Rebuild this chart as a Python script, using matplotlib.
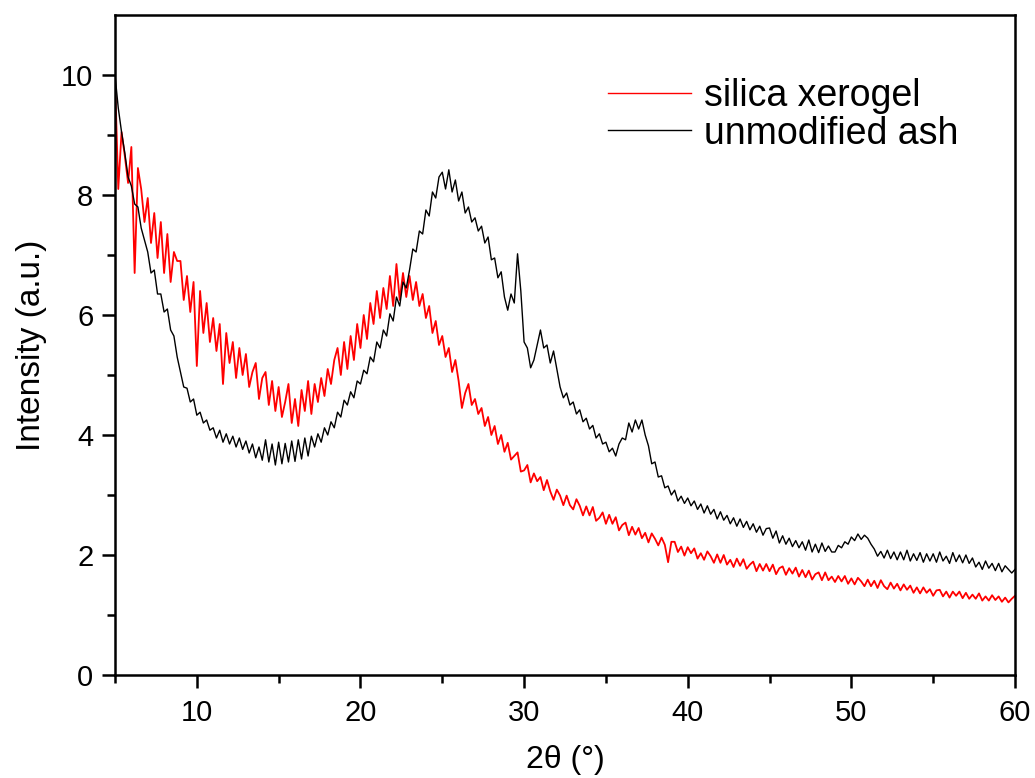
import numpy as np
import matplotlib
matplotlib.use("Agg")
import matplotlib.pyplot as plt

plt.rcParams['font.family'] = ['Liberation Sans', 'DejaVu Sans']

# 2-theta grid (degrees), step 0.2
two_theta = np.round(np.linspace(5.0, 60.0, 276), 2)

# silica xerogel intensity (a.u.)
silica_xerogel = [
    9.95, 8.10, 9.05, 8.65, 8.20, 8.80, 6.70, 8.45, 8.10, 7.55,
    7.95, 7.20, 7.70, 6.95, 7.55, 6.70, 7.35, 6.55, 7.05, 6.90,
    6.90, 6.25, 6.65, 6.05, 6.55, 5.15, 6.40, 5.70, 6.20, 5.55,
    5.95, 5.40, 5.85, 4.85, 5.70, 5.20, 5.55, 4.95, 5.45, 5.00,
    5.35, 4.80, 5.05, 5.20, 4.60, 4.95, 5.05, 4.50, 4.90, 4.40,
    4.80, 4.30, 4.55, 4.85, 4.20, 4.60, 4.15, 4.75, 4.40, 4.90,
    4.35, 4.85, 4.55, 4.95, 4.65, 5.10, 4.85, 5.25, 5.45, 5.00,
    5.55, 5.10, 5.65, 5.25, 5.85, 5.45, 6.00, 5.60, 6.20, 5.85,
    6.40, 5.95, 6.45, 6.10, 6.65, 6.15, 6.85, 6.25, 6.70, 6.30,
    6.65, 6.25, 6.55, 6.15, 6.35, 5.95, 6.15, 5.70, 5.90, 5.50,
    5.65, 5.30, 5.45, 5.05, 5.25, 4.90, 4.45, 4.70, 4.85, 4.50,
    4.60, 4.35, 4.45, 4.15, 4.30, 4.00, 4.15, 3.85, 4.00, 3.72,
    3.87, 3.59, 3.65, 3.71, 3.39, 3.41, 3.50, 3.21, 3.36, 3.23,
    3.30, 3.08, 3.25, 3.06, 2.92, 3.09, 2.99, 2.83, 2.99, 2.83,
    2.76, 2.93, 2.82, 2.66, 2.81, 2.66, 2.80, 2.57, 2.62, 2.71,
    2.52, 2.67, 2.52, 2.63, 2.41, 2.50, 2.54, 2.33, 2.47, 2.34,
    2.45, 2.28, 2.37, 2.21, 2.36, 2.27, 2.16, 2.29, 2.17, 1.88,
    2.22, 2.22, 2.05, 2.14, 1.99, 2.13, 2.03, 2.11, 1.94, 2.03,
    1.92, 2.06, 1.98, 1.87, 2.01, 1.87, 2.00, 1.84, 1.92, 1.80,
    1.94, 1.82, 1.93, 1.77, 1.84, 1.89, 1.73, 1.85, 1.74, 1.85,
    1.73, 1.84, 1.68, 1.78, 1.81, 1.67, 1.78, 1.69, 1.79, 1.64,
    1.75, 1.63, 1.74, 1.59, 1.68, 1.71, 1.58, 1.71, 1.58, 1.64,
    1.55, 1.65, 1.56, 1.65, 1.52, 1.61, 1.51, 1.62, 1.56, 1.48,
    1.59, 1.48, 1.57, 1.45, 1.58, 1.48, 1.43, 1.54, 1.44, 1.52,
    1.41, 1.51, 1.42, 1.49, 1.37, 1.46, 1.36, 1.46, 1.37, 1.43,
    1.32, 1.41, 1.42, 1.31, 1.39, 1.29, 1.39, 1.32, 1.39, 1.28,
    1.37, 1.27, 1.34, 1.27, 1.36, 1.24, 1.31, 1.24, 1.33, 1.25,
    1.31, 1.22, 1.29, 1.21, 1.27, 1.32,
]

# unmodified ash intensity (a.u.)
unmodified_ash = [
    10.00, 9.45, 9.05, 8.70, 8.30, 8.15, 7.85, 7.80, 7.45, 7.25,
    7.05, 6.70, 6.75, 6.35, 6.35, 6.05, 6.10, 5.75, 5.65, 5.30,
    5.05, 4.80, 4.78, 4.55, 4.60, 4.33, 4.38, 4.20, 4.25, 4.08,
    4.12, 3.95, 4.08, 3.88, 4.02, 3.85, 3.98, 3.80, 3.95, 3.76,
    3.90, 3.70, 3.85, 3.62, 3.80, 3.58, 3.92, 3.55, 3.85, 3.50,
    3.88, 3.52, 3.86, 3.55, 3.90, 3.56, 3.92, 3.60, 3.95, 3.65,
    3.98, 3.80, 4.02, 3.88, 4.12, 4.00, 4.22, 4.12, 4.38, 4.30,
    4.58, 4.50, 4.72, 4.62, 4.90, 4.85, 5.08, 5.02, 5.30, 5.22,
    5.55, 5.45, 5.75, 5.65, 6.02, 5.90, 6.30, 6.15, 6.55, 6.45,
    6.75, 7.10, 7.05, 7.40, 7.35, 7.75, 7.65, 8.05, 7.95, 8.30,
    8.38, 8.10, 8.42, 8.05, 8.25, 7.90, 8.05, 7.70, 7.80, 7.55,
    7.62, 7.40, 7.48, 7.20, 7.30, 6.92, 6.95, 6.62, 6.72, 6.30,
    6.08, 6.35, 6.20, 7.02, 6.40, 5.55, 5.45, 5.12, 5.25, 5.50,
    5.75, 5.45, 5.50, 5.20, 5.40, 5.10, 4.80, 4.62, 4.70, 4.50,
    4.55, 4.35, 4.42, 4.22, 4.28, 4.10, 4.16, 3.95, 4.02, 3.85,
    3.88, 3.72, 3.78, 3.65, 3.85, 3.95, 3.92, 4.20, 4.05, 4.25,
    4.10, 4.25, 4.00, 3.82, 3.52, 3.55, 3.30, 3.32, 3.12, 3.15,
    3.00, 3.08, 2.90, 2.98, 2.86, 2.95, 2.82, 2.90, 2.76, 2.85,
    2.70, 2.82, 2.68, 2.76, 2.60, 2.72, 2.58, 2.66, 2.52, 2.62,
    2.48, 2.60, 2.46, 2.56, 2.42, 2.52, 2.38, 2.48, 2.33, 2.44,
    2.45, 2.28, 2.40, 2.20, 2.32, 2.18, 2.28, 2.14, 2.24, 2.12,
    2.22, 2.08, 2.25, 2.05, 2.18, 2.04, 2.20, 2.06, 2.15, 2.05,
    2.05, 2.16, 2.12, 2.22, 2.18, 2.30, 2.24, 2.35, 2.26, 2.33,
    2.28, 2.18, 2.10, 1.98, 2.06, 1.95, 2.08, 1.94, 2.05, 1.92,
    2.05, 1.92, 2.08, 1.90, 2.02, 1.91, 2.04, 1.88, 2.02, 1.90,
    2.02, 1.88, 2.05, 1.90, 1.98, 1.86, 2.04, 1.89, 2.00, 1.87,
    2.00, 1.86, 1.95, 1.80, 1.88, 1.76, 1.90, 1.78, 1.86, 1.74,
    1.86, 1.72, 1.82, 1.76, 1.70, 1.76,
]

series_labels = ["silica xerogel", "unmodified ash"]
series_colors = ["#ff0000", "#000000"]

x_ticks = [10, 20, 30, 40, 50, 60]
y_ticks = [0, 2, 4, 6, 8, 10]

fig = plt.figure(figsize=(10.35, 7.78), dpi=100)
ax = fig.add_axes([115 / 1035, 1 - 675 / 778, 900 / 1035, 660 / 778])

ax.plot(two_theta, silica_xerogel, color=series_colors[0], lw=1.3, label=series_labels[0])
ax.plot(two_theta, unmodified_ash, color=series_colors[1], lw=1.0, label=series_labels[1])

ax.set_xlim(5, 60)
ax.set_ylim(0, 11)
ax.set_xticks(x_ticks)
ax.set_yticks(y_ticks)
ax.set_xticks([5, 15, 25, 35, 45, 55], minor=True)
ax.set_yticks([1, 3, 5, 7, 9], minor=True)

for s in ax.spines.values():
    s.set_linewidth(1.8)
ax.tick_params(which='major', direction='out', length=9.5, width=1.8, labelsize=21)
ax.tick_params(which='minor', direction='out', length=5.5, width=1.8)
ax.tick_params(axis='x', which='major', pad=8)
ax.tick_params(axis='y', which='major', pad=6)

ax.set_xlabel("2θ (°)", fontsize=23, labelpad=13)
ax.set_ylabel("Intensity (a.u.)", fontsize=24, labelpad=10)

leg = ax.legend(loc='upper left', bbox_to_anchor=(0.548, 0.905), frameon=False,
                fontsize=27, handlelength=2.2, handletextpad=0.36,
                labelspacing=0.05, borderpad=0, borderaxespad=0)
for line in leg.get_lines():
    line.set_linewidth(1.0)

fig.savefig("out.png", dpi=100)
